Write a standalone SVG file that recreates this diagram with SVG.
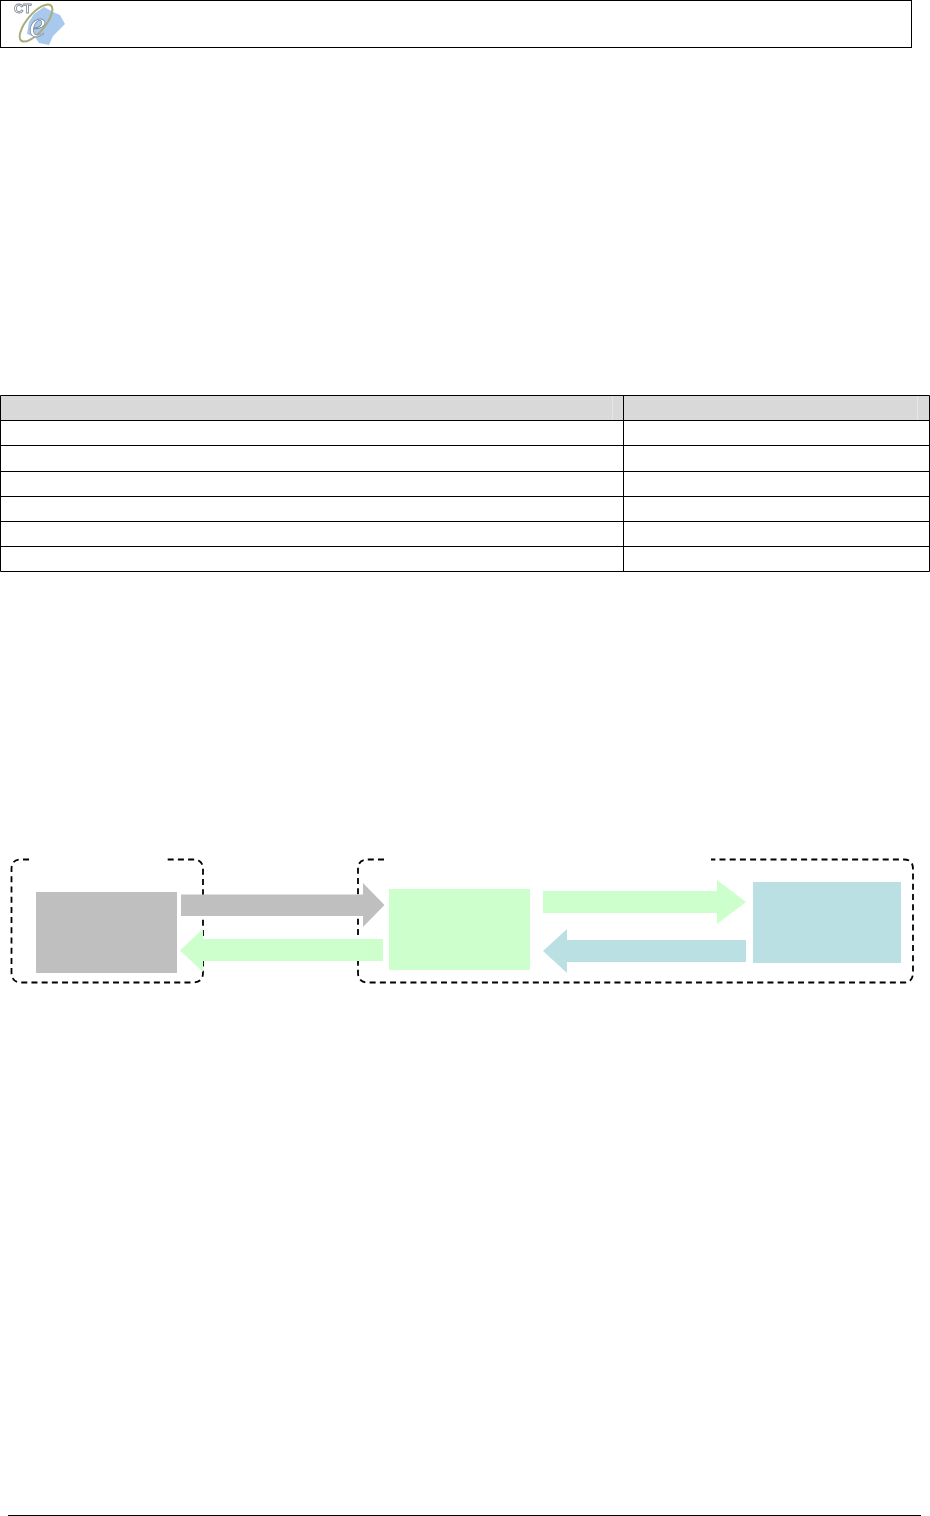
<svg xmlns="http://www.w3.org/2000/svg" width="930" height="1516" viewBox="0 0 930 1516">
<style>
.ln{stroke:#000;stroke-width:1;fill:none}
.dash{stroke:#000;stroke-width:1.8;fill:none;stroke-dasharray:6 4.2}
.grey{fill:#bfbfbf}.green{fill:#ccffcc}.teal{fill:#bbe0e3}
</style>
<defs><filter id="soft" x="-10%" y="-10%" width="120%" height="120%"><feGaussianBlur stdDeviation="0.6"/></filter></defs>
<rect width="930" height="1516" fill="#fff"/>
<g id="header">
<rect class="ln" x="0.5" y="0.5" width="911" height="47"/>
<g id="logo" filter="url(#soft)">
<path d="M34 14L44 7L53 12L60 15L65 24L58 31L53 36L49 45L39 43L35 37L27 34L29 22Z" fill="#a9c8ee"/>
<ellipse cx="36" cy="23" rx="9" ry="23" transform="rotate(40 36 23)" fill="none" stroke="#a9ad7c" stroke-width="2"/>
<text x="14" y="13" font-family="Liberation Sans, sans-serif" font-size="13" font-weight="bold" fill="#fff" stroke="#7d8794" stroke-width="0.8">CT</text>
<text x="29" y="37" font-family="Liberation Serif, serif" font-size="38" font-style="italic" fill="#fff" stroke="#7d8c9c" stroke-width="0.8">e</text>
</g>
</g>
<g id="table">
<rect x="1" y="396" width="928" height="24" fill="#d9d9d9"/>
<path d="M612.500 396V420M917.500 396V420" stroke="#e6e6e6" stroke-width="1"/>
<path class="ln" d="M0.500 395.500H929.500V571.500H0.500ZM0 420.500H930M0 445.500H930M0 471.500H930M0 496.500H930M0 521.500H930M0 546.500H930M623.500 395V572"/>
</g>
<g id="group-left">
<path class="dash" d="M29 859.500H21Q11.500 859.500 11.500 869V972.500Q11.500 982.500 21 982.500H193Q203 982.500 203 972.500V869Q203 859.500 193 859.500H166"/>
</g>
<g id="group-right">
<path class="dash" d="M384 859.500H368Q358 859.500 358 869V972.500Q358 982.500 368 982.500H904Q913 982.500 913 972.500V869Q913 859.500 904 859.500H711"/>
</g>
<g id="node-a"><rect class="grey" x="36" y="892" width="141" height="81"/></g>
<g id="node-b"><rect class="green" x="389" y="889" width="141" height="81"/></g>
<g id="node-c"><rect class="teal" x="753" y="882" width="148" height="81"/></g>
<g id="connectors">
<path class="grey" d="M181 894.500H363V883L384.500 905L363 927V916H181Z"/>
<path class="green" d="M383 939H203V929L180 950.500L203 972V961H383Z"/>
<path class="green" d="M543 891H717V880L746 902L717 924V913H543Z"/>
<path class="teal" d="M746 940H567V929L543 951L567 973V962H746Z"/>
</g>
<g id="footer"><path class="ln" d="M8 1515.500H921"/></g>
</svg>
